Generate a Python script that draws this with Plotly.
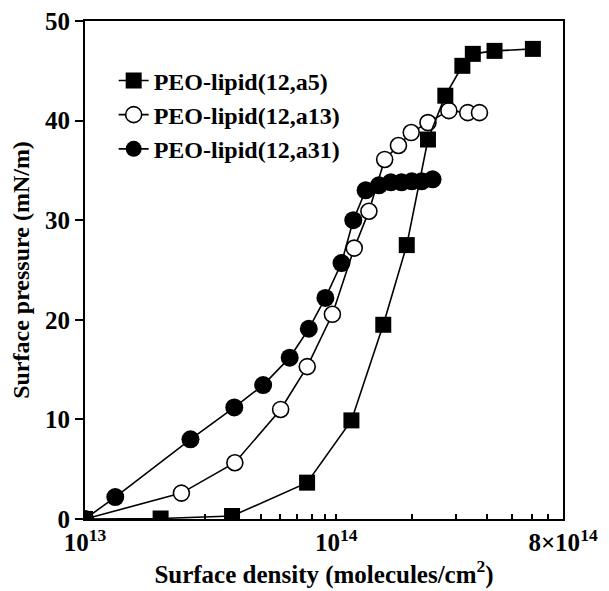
import plotly.graph_objects as go

# ---- data ----
a5_x = [1.0e13, 2.0e13, 3.85e13, 7.66e13, 1.15e14, 1.54e14, 1.91e14, 2.32e14,
        2.72e14, 3.18e14, 3.50e14, 4.27e14, 6.07e14]
a5_y = [0, 0.05, 0.3, 3.65, 9.9, 19.5, 27.5, 38.1, 42.5, 45.5, 46.7, 47.0, 47.2]

a13_x = [1.0e13, 2.42e13, 3.95e13, 6.01e13, 7.67e13, 9.66e13, 1.18e14, 1.35e14,
         1.56e14, 1.77e14, 1.99e14, 2.32e14, 2.81e14, 3.34e14, 3.72e14]
a13_y = [0, 2.6, 5.65, 11.0, 15.3, 20.55, 27.2, 30.9, 36.1, 37.5, 38.8, 39.8,
         41.0, 40.8, 40.8]

a31_x = [1.0e13, 1.32e13, 2.63e13, 3.93e13, 5.12e13, 6.53e13, 7.78e13, 9.06e13,
         1.05e14, 1.17e14, 1.31e14, 1.48e14, 1.65e14, 1.82e14, 2.0e14, 2.19e14, 2.42e14]
a31_y = [0, 2.2, 8.0, 11.2, 13.45, 16.2, 19.1, 22.2, 25.7, 30.0, 33.0, 33.5,
         33.8, 33.8, 33.9, 33.9, 34.1]

series_names = ["PEO-lipid(12,a5)", "PEO-lipid(12,a13)", "PEO-lipid(12,a31)"]

x_tickvals = [1e13, 2e13, 3e13, 4e13, 5e13, 6e13, 7e13, 8e13, 9e13,
              1e14, 2e14, 3e14, 4e14, 5e14, 6e14, 7e14, 8e14]
x_ticktext = ["10<sup>13</sup>", "", "", "", "", "", "", "", "",
              "10<sup>14</sup>", "", "", "", "", "", "", "8×10<sup>14</sup>"]
y_tickvals = [0, 10, 20, 30, 40, 50]

FONT = "Liberation Serif"

fig = go.Figure()
fig.add_trace(go.Scatter(
    x=a31_x, y=a31_y, name=series_names[2], mode="lines+markers", legendrank=3,
    line=dict(color="black", width=1.6),
    marker=dict(symbol="circle", size=18, color="black", line=dict(width=0))))
fig.add_trace(go.Scatter(
    x=a13_x, y=a13_y, name=series_names[1], mode="lines+markers", legendrank=2,
    line=dict(color="black", width=1.6),
    marker=dict(symbol="circle", size=16, color="white", line=dict(color="black", width=1.6))))
fig.add_trace(go.Scatter(
    x=a5_x, y=a5_y, name=series_names[0], mode="lines+markers", legendrank=1,
    line=dict(color="black", width=1.6),
    marker=dict(symbol="square", size=16, color="black", line=dict(width=0))))

fig.update_layout(
    width=609, height=591,
    margin=dict(l=77, r=54, t=13, b=80),
    paper_bgcolor="white", plot_bgcolor="white",
    font=dict(family=FONT, size=24, color="black", weight="bold"),
    showlegend=True,
    legend=dict(x=0.06, y=0.925, xanchor="left", yanchor="top",
                bgcolor="rgba(0,0,0,0)", borderwidth=0,
                font=dict(family=FONT, size=24, color="black", weight="bold"),
                tracegroupgap=0, itemwidth=30),
    xaxis=dict(
        type="log", range=[13, 14.90309], automargin=False,
        tickvals=x_tickvals, ticktext=x_ticktext, ticklabeloverflow="allow",
        ticks="inside", ticklen=5, tickwidth=1.5, tickcolor="black",
        showline=True, linecolor="black", linewidth=2, mirror=True,
        showgrid=False, zeroline=False,
        tickfont=dict(family=FONT, size=25, weight="bold"),
        title=dict(text="Surface density (molecules/cm<sup>2</sup>)",
                   font=dict(family=FONT, size=25, weight="bold"), standoff=4),
    ),
    yaxis=dict(
        range=[0, 50], tickvals=y_tickvals, automargin=False,
        ticklabeloverflow="allow",
        ticks="outside", ticklen=8, tickwidth=1.5, tickcolor="black",
        showline=True, linecolor="black", linewidth=2, mirror=True,
        showgrid=False, zeroline=False,
        tickfont=dict(family=FONT, size=25, weight="bold"),
        title=dict(text="Surface pressure (mN/m)",
                   font=dict(family=FONT, size=24, weight="bold"), standoff=12),
    ),
)

fig.write_html("out.html")
